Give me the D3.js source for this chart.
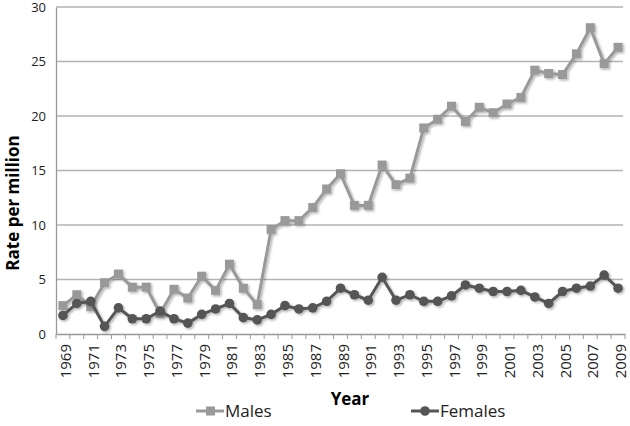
<!DOCTYPE html>
<html>
<head>
<meta charset="utf-8">
<script src="https://cdn.jsdelivr.net/npm/d3@7"></script>
<style>
  body { margin: 0; background: #fff; }
  svg { font-family: "Open Sans", Lato, sans-serif; }
</style>
</head>
<body>
<svg id="chart" width="630" height="426"></svg>
<script>
// years 1969..2009
var years = d3.range(1969, 2010);
var yTicks = [0, 5, 10, 15, 20, 25, 30];

var males = [2.6, 3.6, 2.5, 4.7, 5.5, 4.3, 4.3, 1.9, 4.1, 3.3,
             5.3, 4.0, 6.4, 4.2, 2.7, 9.6, 10.4, 10.4, 11.6, 13.3,
             14.7, 11.8, 11.8, 15.5, 13.7, 14.3, 18.9, 19.7, 20.9, 19.5,
             20.8, 20.3, 21.1, 21.7, 24.2, 23.9, 23.8, 25.7, 28.1, 24.8, 26.3];

var females = [1.7, 2.8, 3.0, 0.7, 2.4, 1.4, 1.4, 2.1, 1.4, 1.0,
               1.8, 2.3, 2.8, 1.5, 1.3, 1.8, 2.6, 2.3, 2.4, 3.0,
               4.2, 3.6, 3.1, 5.2, 3.1, 3.6, 3.0, 3.0, 3.5, 4.5,
               4.2, 3.9, 3.9, 4.0, 3.4, 2.8, 3.9, 4.2, 4.4, 5.4, 4.2];

var svg = d3.select('#chart');
var pLeft = 56, pRight = 625, pTop = 7, pBottom = 334;

var defs = svg.append('defs');
var f = defs.append('filter').attr('id', 'shadow')
    .attr('x', '-20%').attr('y', '-20%').attr('width', '140%').attr('height', '140%');
f.append('feDropShadow').attr('dx', 1.5).attr('dy', 1.5)
    .attr('stdDeviation', 1.2).attr('flood-color', '#000').attr('flood-opacity', 0.3);

var x = d3.scaleBand().domain(years).range([pLeft, pRight]);
var y = d3.scaleLinear().domain([0, 30]).range([pBottom, pTop]);
var cx = function (d) { return x(d) + x.bandwidth() / 2; };

// gridlines
svg.append('g')
    .selectAll('line')
    .data(yTicks.slice(1))
    .enter()
    .append('line')
    .attr('x1', pLeft).attr('x2', pRight - 2)
    .attr('y1', function (d) { return y(d); })
    .attr('y2', function (d) { return y(d); })
    .attr('stroke', '#b3b3b3').attr('stroke-width', 1.3);

// y axis
var yAxis = svg.append('g')
    .attr('transform', 'translate(' + pLeft + ',0)')
    .call(d3.axisLeft(y).tickValues(yTicks).tickSize(0).tickPadding(10));
yAxis.select('.domain').attr('stroke', '#999').attr('stroke-width', 1.3);
yAxis.selectAll('text').attr('font-size', 13).attr('fill', '#222')
    .attr('font-family', '"Open Sans", sans-serif');

// x axis
var xAxis = svg.append('g')
    .attr('transform', 'translate(0,' + pBottom + ')')
    .call(d3.axisBottom(x).tickSize(0).tickFormat(''));
xAxis.select('.domain').attr('stroke', '#999').attr('stroke-width', 1.3);
xAxis.selectAll('.tick').remove();

// category boundary ticks
svg.append('g')
    .selectAll('line')
    .data(years.concat([2010]))
    .enter()
    .append('line')
    .attr('x1', function (d) { return d === 2010 ? pRight : x(d); })
    .attr('x2', function (d) { return d === 2010 ? pRight : x(d); })
    .attr('y1', pBottom).attr('y2', pBottom + 5)
    .attr('stroke', '#999').attr('stroke-width', 1);

// year labels (every second)
svg.append('g')
    .selectAll('text')
    .data(years.filter(function (d) { return (d - 1969) % 2 === 0; }))
    .enter()
    .append('text')
    .attr('transform', function (d) {
        return 'translate(' + (cx(d) + 8) + ',' + (pBottom + 10) + ') rotate(-90)';
    })
    .attr('text-anchor', 'end')
    .attr('font-size', 15)
    .attr('fill', '#222')
    .text(function (d) { return d; });

// axis titles
svg.append('text')
    .attr('transform', 'translate(19,203) rotate(-90)')
    .attr('text-anchor', 'middle')
    .attr('font-size', 17).attr('font-weight', 'bold')
    .text('Rate per million');

svg.append('text')
    .attr('x', 350).attr('y', 405)
    .attr('text-anchor', 'middle')
    .attr('font-size', 17).attr('font-weight', 'bold')
    .text('Year');

// lines
var line = d3.line()
    .x(function (d, i) { return cx(years[i]); })
    .y(function (d) { return y(d); });

var gM = svg.append('g').attr('filter', 'url(#shadow)');
gM.append('path').datum(males)
    .attr('d', line).attr('fill', 'none')
    .attr('stroke', '#999').attr('stroke-width', 3);
gM.selectAll('rect').data(males).enter().append('rect')
    .attr('x', function (d, i) { return cx(years[i]) - 4.5; })
    .attr('y', function (d) { return y(d) - 4.5; })
    .attr('width', 9).attr('height', 9)
    .attr('fill', '#999');

var gF = svg.append('g').attr('filter', 'url(#shadow)');
gF.append('path').datum(females)
    .attr('d', line).attr('fill', 'none')
    .attr('stroke', '#555').attr('stroke-width', 3);
gF.selectAll('circle').data(females).enter().append('circle')
    .attr('cx', function (d, i) { return cx(years[i]); })
    .attr('cy', function (d) { return y(d); })
    .attr('r', 4.8)
    .attr('fill', '#555');

// legend
var legend = svg.append('g');
var lgM = legend.append('g').attr('transform', 'translate(196,411)');
lgM.append('line').attr('x1', 0).attr('x2', 28).attr('stroke', '#999').attr('stroke-width', 3);
lgM.append('rect').attr('x', 10).attr('y', -4.5).attr('width', 9).attr('height', 9).attr('fill', '#999');
lgM.append('text').attr('x', 29).attr('y', 6).attr('font-size', 17).attr('fill', '#222').text('Males');

var lgF = legend.append('g').attr('transform', 'translate(411,411)');
lgF.append('line').attr('x1', 0).attr('x2', 28).attr('stroke', '#555').attr('stroke-width', 3);
lgF.append('circle').attr('cx', 14).attr('cy', 0).attr('r', 4.8).attr('fill', '#555');
lgF.append('text').attr('x', 29).attr('y', 6).attr('font-size', 17).attr('fill', '#222').text('Females');
</script>
</body>
</html>
